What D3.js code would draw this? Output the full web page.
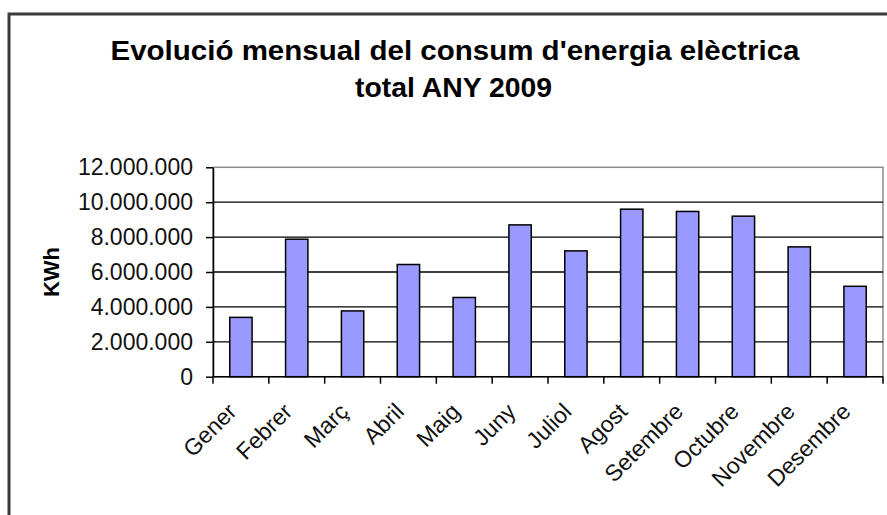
<!DOCTYPE html>
<html>
<head>
<meta charset="utf-8">
<script src="https://cdn.jsdelivr.net/npm/d3@7"></script>
<style>
  html, body { margin: 0; padding: 0; background: #fff; }
  svg { display: block; }
  text { font-family: "Liberation Sans", Arial, sans-serif; }
</style>
</head>
<body>
<svg id="chart" width="887" height="515"></svg>
<script>
const titleLines = ["Evolució mensual del consum d'energia elèctrica", "total ANY 2009"];
const yAxisTitle = "KWh";
const months = ["Gener", "Febrer", "Març", "Abril", "Maig", "Juny", "Juliol", "Agost", "Setembre", "Octubre", "Novembre", "Desembre"];
const consumption = [3400000, 7880000, 3770000, 6430000, 4540000, 8700000, 7210000, 9600000, 9470000, 9200000, 7440000, 5180000];
const yTicks = [0, 2000000, 4000000, 6000000, 8000000, 10000000, 12000000];

const svg = d3.select("#chart");
const W = 887, H = 515;
const plot = { left: 213, right: 883, top: 167.3, bottom: 376.7 };

// outer chart border
svg.append("rect")
  .attr("x", 9).attr("y", 14)
  .attr("width", W + 20).attr("height", H + 20)
  .attr("fill", "#fff")
  .attr("stroke", "#3a3a3a").attr("stroke-width", 3);

// title
const titleEl = svg.append("text")
  .attr("text-anchor", "middle")
  .attr("font-weight", "bold")
  .attr("font-size", 28)
  .attr("fill", "#000");
titleEl.append("tspan").attr("x", 455).attr("y", 60).attr("textLength", 689).attr("lengthAdjust", "spacingAndGlyphs").text(titleLines[0]);
titleEl.append("tspan").attr("x", 453.5).attr("y", 96.7).attr("textLength", 197).attr("lengthAdjust", "spacingAndGlyphs").text(titleLines[1]);

const x = d3.scaleBand()
  .domain(months)
  .range([plot.left, plot.right])
  .paddingInner(0.6)
  .paddingOuter(0.3);

const y = d3.scaleLinear()
  .domain([0, 12000000])
  .range([plot.bottom, plot.top]);

const locale = d3.formatLocale({ decimal: ",", thousands: ".", grouping: [3], currency: ["", "€"] });
const fmt = locale.format(",");

// plot area border (gray)
svg.append("rect")
  .attr("x", plot.left).attr("y", plot.top)
  .attr("width", plot.right - plot.left).attr("height", plot.bottom - plot.top)
  .attr("fill", "none")
  .attr("stroke", "#8c8c8c").attr("stroke-width", 1.5);

// gridlines
svg.append("g")
  .selectAll("line")
  .data(yTicks.filter(d => d > 0 && d < 12000000))
  .join("line")
  .attr("x1", plot.left).attr("x2", plot.right)
  .attr("y1", d => y(d)).attr("y2", d => y(d))
  .attr("stroke", "#000").attr("stroke-width", 1.3);

// bars
svg.append("g")
  .selectAll("rect")
  .data(months)
  .join("rect")
  .attr("x", d => x(d))
  .attr("y", (d, i) => y(consumption[i]))
  .attr("width", x.bandwidth())
  .attr("height", (d, i) => y(0) - y(consumption[i]))
  .attr("fill", "#9999ff")
  .attr("stroke", "#000").attr("stroke-width", 1.5);

// y axis
const yAxis = svg.append("g")
  .attr("transform", `translate(${plot.left},0)`)
  .call(d3.axisLeft(y).tickValues(yTicks).tickFormat(fmt).tickSize(7).tickPadding(13).tickSizeOuter(0));
yAxis.select(".domain").attr("stroke", "#000").attr("stroke-width", 1.5);
yAxis.selectAll(".tick line").attr("stroke", "#000").attr("stroke-width", 1.5);
yAxis.selectAll(".tick text")
  .attr("font-size", 23)
  .attr("font-family", "'Liberation Sans', Arial, sans-serif")
  .attr("fill", "#111");

// x axis line + boundary ticks
const step = x.step();
const boundaries = d3.range(months.length + 1).map(i => plot.left + i * step);
svg.append("line")
  .attr("x1", plot.left).attr("x2", plot.right)
  .attr("y1", y(0)).attr("y2", y(0))
  .attr("stroke", "#000").attr("stroke-width", 1.5);
svg.append("g")
  .selectAll("line")
  .data(boundaries)
  .join("line")
  .attr("x1", d => d).attr("x2", d => d)
  .attr("y1", y(0)).attr("y2", y(0) + 7)
  .attr("stroke", "#000").attr("stroke-width", 1.5);

// x labels
svg.append("g")
  .selectAll("text")
  .data(months)
  .join("text")
  .attr("text-anchor", "end")
  .attr("font-size", 23)
  .attr("fill", "#111")
  .attr("transform", d => `translate(${x(d) + x.bandwidth() / 2 - 3},413) rotate(-45)`)
  .text(d => d);

// y axis title
svg.append("text")
  .attr("text-anchor", "middle")
  .attr("font-weight", "bold")
  .attr("font-size", 22)
  .attr("fill", "#000")
  .attr("transform", `translate(59,${(plot.top + plot.bottom) / 2}) rotate(-90)`)
  .text(yAxisTitle);
</script>
</body>
</html>
